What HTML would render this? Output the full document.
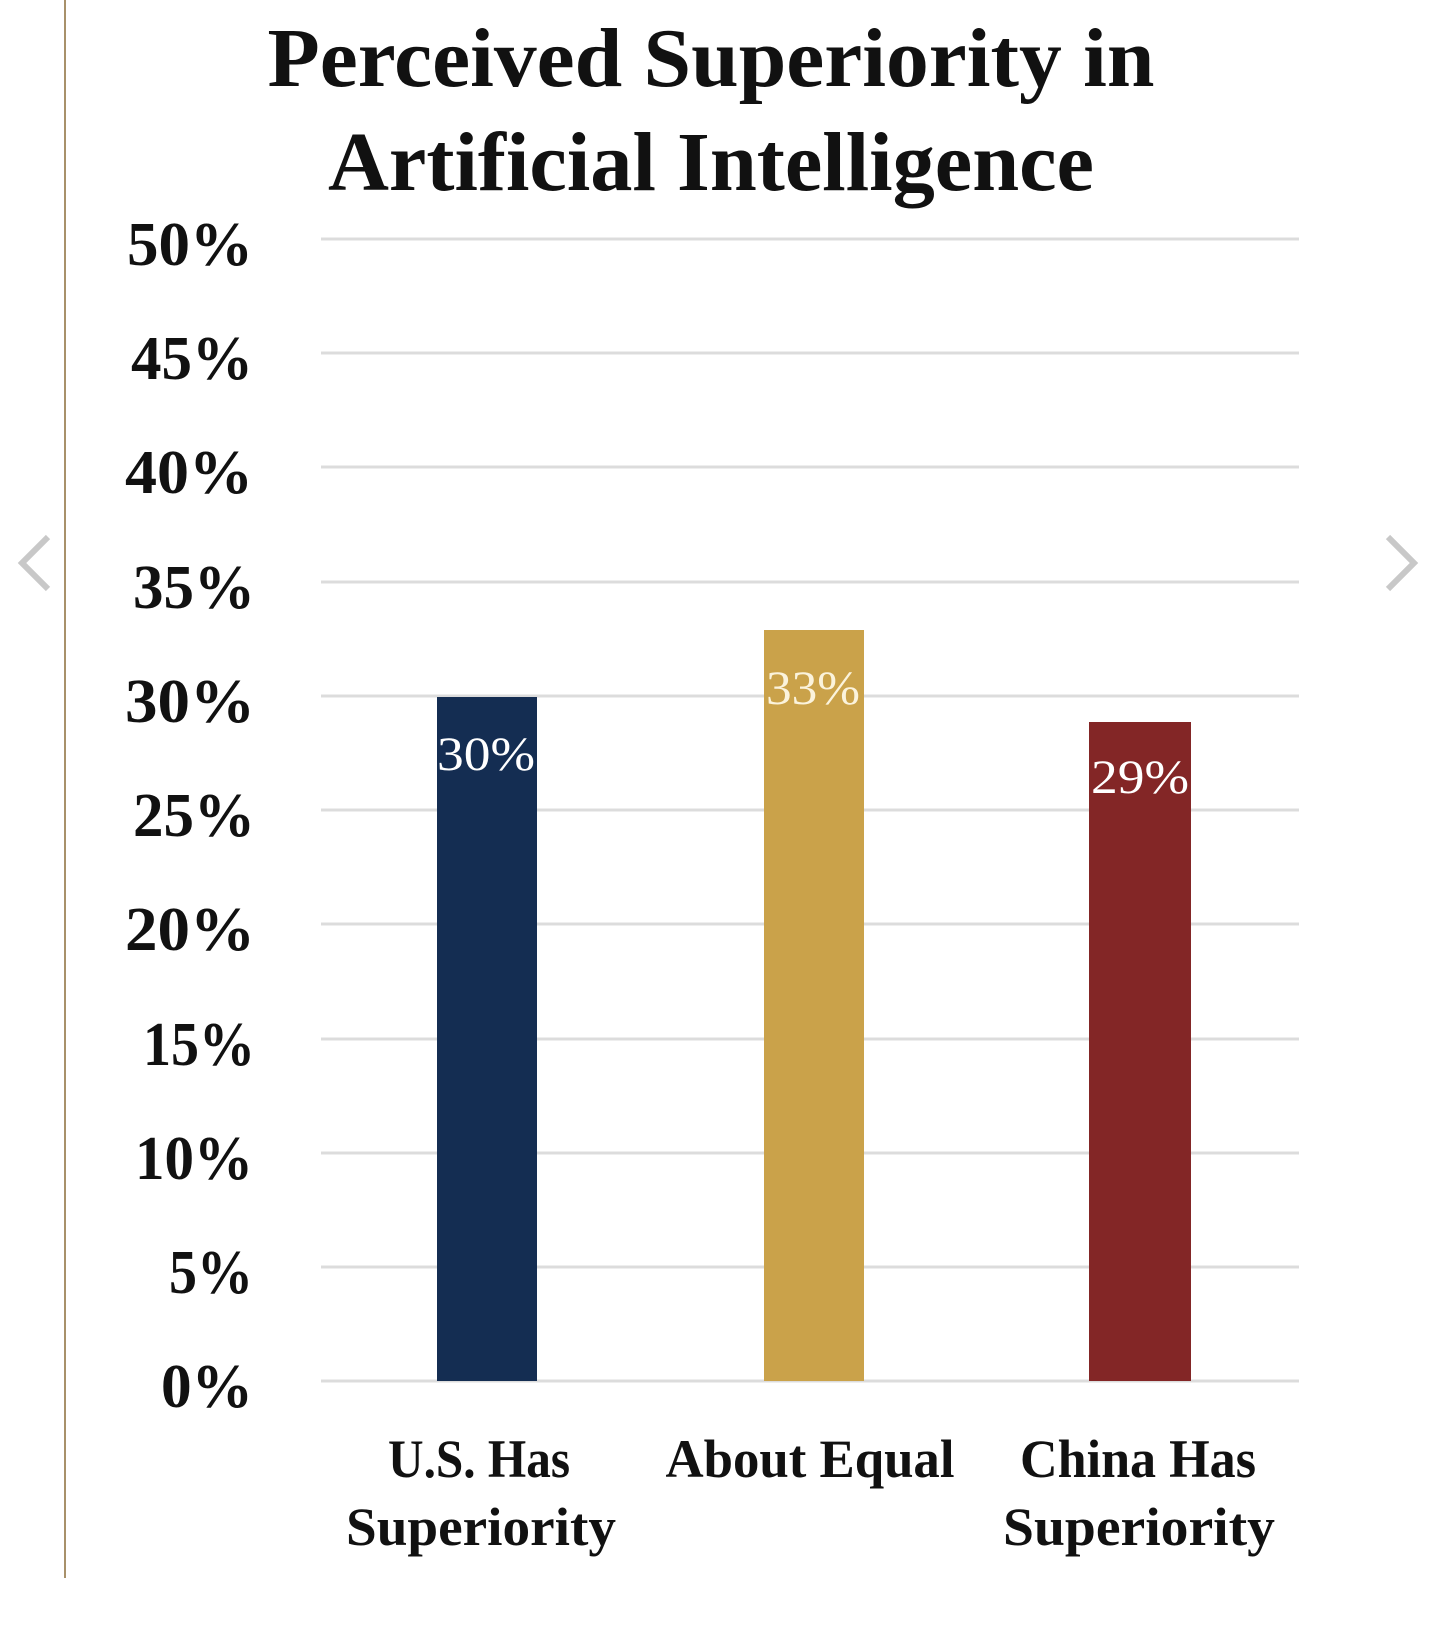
<!DOCTYPE html>
<html><head><meta charset="utf-8"><style>html,body{margin:0;padding:0;background:#fff}svg{display:block}</style></head>
<body>
<svg width="1434" height="1648" viewBox="0 0 1434 1648" xmlns="http://www.w3.org/2000/svg" font-family="'Liberation Serif', serif" font-weight="bold">
<rect width="1434" height="1648" fill="#fff"/>
<line x1="65" y1="0" x2="65" y2="1578" stroke="#a8916a" stroke-width="2"/>
<polyline points="48,537 22,563 48,589" fill="none" stroke="#c8c8c8" stroke-width="6"/>
<polyline points="1388,537 1414,563 1388,589" fill="none" stroke="#c8c8c8" stroke-width="6"/>
<text x="711" y="86" font-size="84" text-anchor="middle" textLength="887" lengthAdjust="spacingAndGlyphs" fill="#111">Perceived Superiority in</text>
<text x="711" y="190" font-size="84" text-anchor="middle" textLength="766" lengthAdjust="spacingAndGlyphs" fill="#111">Artificial Intelligence</text>
<g stroke="#dcdcdc" stroke-width="3">
<line x1="321" y1="239" x2="1299" y2="239"/>
<line x1="321" y1="353" x2="1299" y2="353"/>
<line x1="321" y1="467" x2="1299" y2="467"/>
<line x1="321" y1="582" x2="1299" y2="582"/>
<line x1="321" y1="696" x2="1299" y2="696"/>
<line x1="321" y1="810" x2="1299" y2="810"/>
<line x1="321" y1="924" x2="1299" y2="924"/>
<line x1="321" y1="1039" x2="1299" y2="1039"/>
<line x1="321" y1="1153" x2="1299" y2="1153"/>
<line x1="321" y1="1267" x2="1299" y2="1267"/>
<line x1="321" y1="1381" x2="1299" y2="1381"/>
</g>
<g font-size="62" text-anchor="end" fill="#111">
<text x="253" y="265" textLength="126" lengthAdjust="spacingAndGlyphs">50%</text>
<text x="253" y="379" textLength="122" lengthAdjust="spacingAndGlyphs">45%</text>
<text x="253" y="493" textLength="128" lengthAdjust="spacingAndGlyphs">40%</text>
<text x="255" y="608" textLength="122" lengthAdjust="spacingAndGlyphs">35%</text>
<text x="255" y="722" textLength="130" lengthAdjust="spacingAndGlyphs">30%</text>
<text x="255" y="836" textLength="122" lengthAdjust="spacingAndGlyphs">25%</text>
<text x="255" y="950" textLength="130" lengthAdjust="spacingAndGlyphs">20%</text>
<text x="255" y="1065" textLength="112" lengthAdjust="spacingAndGlyphs">15%</text>
<text x="253" y="1179" textLength="118" lengthAdjust="spacingAndGlyphs">10%</text>
<text x="253" y="1293" textLength="84" lengthAdjust="spacingAndGlyphs">5%</text>
<text x="253" y="1407" textLength="92" lengthAdjust="spacingAndGlyphs">0%</text>
</g>
<rect x="437" y="697" width="100" height="684" fill="#142d52"/>
<rect x="764" y="630" width="100" height="751" fill="#caa24a"/>
<rect x="1089" y="722" width="102" height="659" fill="#832626"/>
<g font-size="48" font-weight="normal" text-anchor="middle">
<text x="486" y="770" fill="#fff" textLength="98" lengthAdjust="spacingAndGlyphs">30%</text>
<text x="813" y="704" fill="#fbf3dc" textLength="94" lengthAdjust="spacingAndGlyphs">33%</text>
<text x="1140" y="793" fill="#fff" textLength="98" lengthAdjust="spacingAndGlyphs">29%</text>
</g>
<g font-size="54" text-anchor="middle" fill="#111">
<text x="479" y="1477" textLength="182" lengthAdjust="spacingAndGlyphs">U.S. Has</text>
<text x="481" y="1545" textLength="270" lengthAdjust="spacingAndGlyphs">Superiority</text>
<text x="810" y="1477" textLength="289" lengthAdjust="spacingAndGlyphs">About Equal</text>
<text x="1138" y="1477" textLength="236" lengthAdjust="spacingAndGlyphs">China Has</text>
<text x="1139" y="1545" textLength="272" lengthAdjust="spacingAndGlyphs">Superiority</text>
</g>
</svg>
</body></html>
